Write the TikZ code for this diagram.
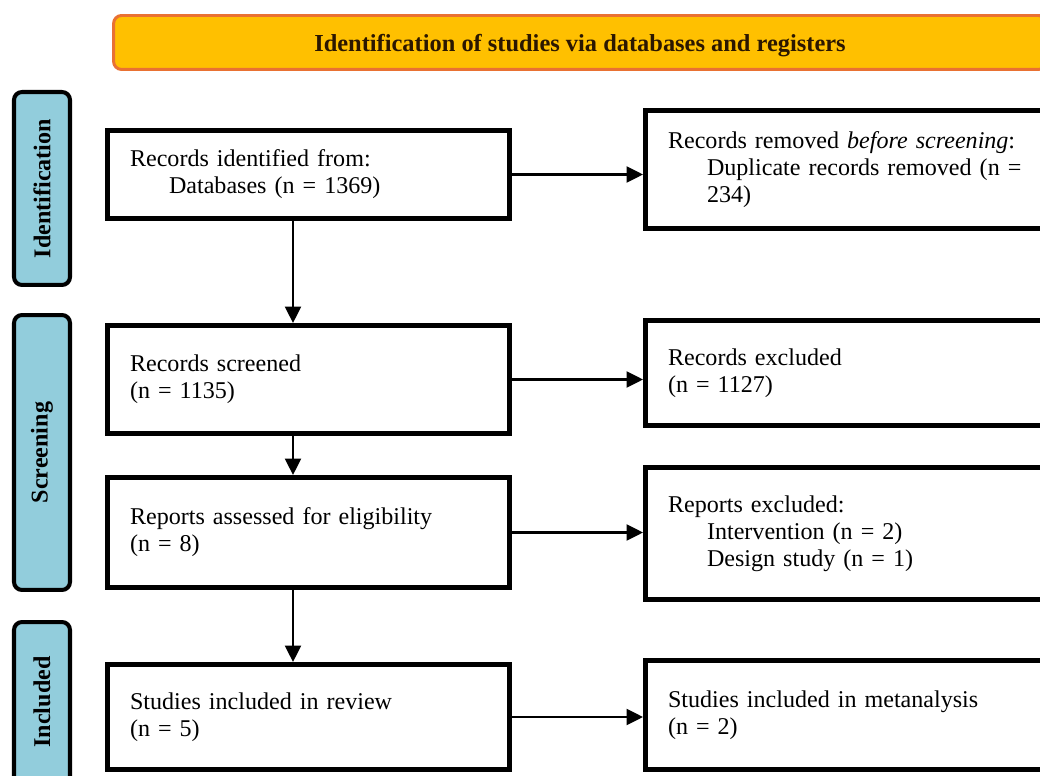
\documentclass[tikz,border=0pt]{standalone}
\usepackage{fontspec}
\setmainfont{Liberation Serif}
\usetikzlibrary{arrows.meta}
\definecolor{bannerfill}{HTML}{FFC000}
\definecolor{bannerdraw}{HTML}{E97132}
\definecolor{bannertext}{HTML}{2B1700}
\definecolor{phasefill}{HTML}{92CDDC}

\begin{document}
\begin{tikzpicture}[
    x=0.02cm, y=-0.02cm,
    every node/.style={font=\fontsize{13.7}{15.4}\selectfont},
    box/.style={rectangle, draw=black, line width=2.85pt, fill=white, text width=7.15cm, inner xsep=0.45cm, inner ysep=0pt, align=left},
    outbox/.style={box, text width=7.7cm},
    phase/.style={rectangle, rounded corners=0.16cm, draw=black, line width=2.3pt, fill=phasefill, minimum height=1.12cm, font=\fontsize{13.7}{15.4}\selectfont\bfseries, rotate=90},
    banner/.style={rectangle, rounded corners=0.16cm, draw=bannerdraw, line width=1.7pt, fill=bannerfill, minimum width=18.66cm, minimum height=1.08cm, text depth=0pt, text=bannertext, font=\fontsize{13.9}{15.4}\selectfont\bfseries},
    arrow/.style={-{Triangle[length=0.33cm, width=0.32cm]}, line width=1.4pt}
]
\path[use as bounding box, clip] (0,0) rectangle (1040,776);

% Header
\node[banner] (head) at (580, 42.5) {Identification of studies via databases and registers};

% Phases
\node[phase, minimum width=3.86cm] (ph_ident) at (42, 188.5) {Identification};
\node[phase, minimum width=5.5cm] (ph_screen) at (42, 452.5) {Screening};
\node[phase, minimum width=4.16cm] (ph_incl) at (42, 726) {\hspace*{0.96cm}Included};

% Identification
\node[box, minimum height=1.76cm] (identified) at (308.75, 174.5) {Records identified from:\\\hspace*{0.78cm}Databases (n = 1369)};
\node[outbox, minimum height=2.36cm] (removed) at (860.5, 169.5) {Records removed \textit{before screening}:\\\hspace*{0.78cm}Duplicate records removed (n =\\\hspace*{0.78cm}234)};

% Screening
\node[box, minimum height=2.16cm] (screened) at (308.75, 379.5) {Records screened\\(n = 1135)};
\node[outbox, minimum height=2.1cm] (excluded) at (860.5, 373) {Records excluded\\(n = 1127)};
\node[box, minimum height=2.2cm] (assessed) at (308.75, 532.5) {Reports assessed for eligibility\\(n = 8)};
\node[outbox, minimum height=2.64cm] (rep_excl) at (860.5, 533.5) {Reports excluded:\\\hspace*{0.78cm}Intervention (n = 2)\\\hspace*{0.78cm}Design study (n = 1)};

% Included
\node[box, minimum height=2.1cm] (review) at (308.75, 717) {Studies included in review\\(n = 5)};
\node[outbox, minimum height=2.18cm] (meta) at (860.5, 715) {Studies included in metanalysis\\(n = 2)};

\draw[arrow] (identified.east) -- (identified.east -| removed.west);
\draw[arrow] (screened.east) -- (screened.east -| excluded.west);
\draw[arrow] (assessed.east) -- (assessed.east -| rep_excl.west);
\draw[arrow] (review.east) -- (review.east -| meta.west);

\draw[arrow] ([xshift=-0.315cm]identified.south) -- ([xshift=-0.315cm]screened.north);
\draw[arrow] ([xshift=-0.315cm]screened.south) -- ([xshift=-0.315cm]assessed.north);
\draw[arrow] ([xshift=-0.315cm]assessed.south) -- ([xshift=-0.315cm]review.north);

\end{tikzpicture}
\end{document}
